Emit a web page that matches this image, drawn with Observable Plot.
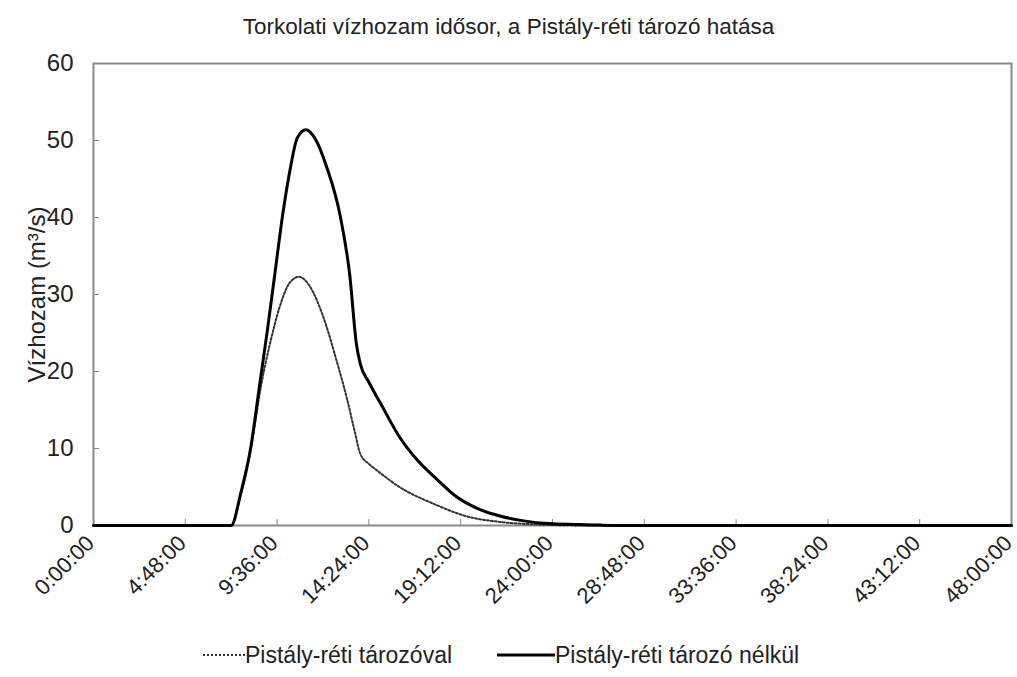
<!DOCTYPE html>
<html>
<head>
<meta charset="utf-8">
<script src="https://cdn.jsdelivr.net/npm/d3@7"></script>
<script src="https://cdn.jsdelivr.net/npm/@observablehq/plot@0.6"></script>
<style>
  body { margin: 0; background: #fff; font-family: "Liberation Sans", Arial, sans-serif; color: #222; }
  #wrap { position: relative; width: 1017px; height: 677px; }
  #title { position: absolute; top: 13px; left: 0; width: 1017px; text-align: center; font-size: 22.5px; line-height: 28px; }
  #chart { position: absolute; top: 50px; left: 0; }
  #legend { position: absolute; top: 641px; left: 0; width: 1017px; height: 28px; font-size: 23px; line-height: 28px; }
  .item { position: absolute; top: 0; display: flex; align-items: center; }
  .item svg { display: block; }
</style>
</head>
<body>
<div id="wrap">
  <div id="title">Torkolati vízhozam idősor, a Pistály-réti tározó hatása</div>
  <div id="chart"></div>
  <div id="legend">
    <div class="item" style="left:203px"><svg width="42" height="28"><line x1="0" y1="14" x2="42" y2="14" stroke="#333" stroke-width="2" stroke-dasharray="2,2"/></svg><span>Pistály-réti tározóval</span></div>
    <div class="item" style="left:497px"><svg width="58" height="28"><line x1="0" y1="14" x2="58" y2="14" stroke="#000" stroke-width="3"/></svg><span>Pistály-réti tározó nélkül</span></div>
  </div>
</div>
<script>
// Series: time in hours, discharge in m³/s
const timeWithout  = [0, 7.2, 7.7, 8.2, 8.7, 9.1, 9.5, 9.9, 10.3, 10.65, 11.1, 11.6, 12.2, 12.9, 13.4, 13.75, 13.95, 14.4, 15.0, 16.0, 17.0, 18.0, 19.0, 20.0, 21.3, 22.5, 23.8, 26.5, 28, 48];
const valueWithout = [0, 0,   4.2, 9.8, 18.5, 25.5, 33, 40.5, 46.5, 50.3, 51.4, 50.2, 46.5, 40.2, 32.5, 23.5, 21.0, 18.6, 15.9, 11.5, 8.3, 5.9, 3.7, 2.3, 1.2, 0.6, 0.25, 0.05, 0, 0];

const timeWith  = [0, 7.2, 7.7, 8.2, 8.75, 9.2, 9.75, 10.25, 10.75, 11.3, 12.0, 12.7, 13.25, 13.65, 13.95, 14.4, 14.8, 16.0, 17.8, 19.5, 21.3, 23.0, 25, 26, 48];
const valueWith = [0, 0,   4.0, 9.5, 18.0, 23.3, 28.5, 31.5,  32.3,  31.1, 27.2, 21.5, 16.5,  12.3,  9.3,   8.0,  7.2,  5.0,  2.8,  1.2,  0.45, 0.15, 0.02, 0, 0];

const xTickHours = [0, 4.8, 9.6, 14.4, 19.2, 24, 28.8, 33.6, 38.4, 43.2, 48];
const yTicks = [0, 10, 20, 30, 40, 50, 60];
const yLabel = "Vízhozam (m³/s)";

const withoutData = timeWithout.map((t, i) => ({t, v: valueWithout[i]}));
const withData = timeWith.map((t, i) => ({t, v: valueWith[i]}));

const fmt = h => {
  const total = Math.round(h * 60);
  const hh = Math.floor(total / 60), mm = total % 60;
  return `${hh}:${String(mm).padStart(2, "0")}:00`;
};

const chart = Plot.plot({
  width: 1017,
  height: 590,
  marginTop: 13,
  marginBottom: 115,
  marginLeft: 93,
  marginRight: 6,
  style: {fontFamily: "Liberation Sans, Arial, sans-serif", fontSize: "23px", color: "#222", background: "#fff"},
  x: {domain: [0, 48]},
  y: {domain: [0, 60]},
  marks: [
    Plot.frame({stroke: "#888", strokeWidth: 2}),
    Plot.axisY({ticks: yTicks, tickSize: 6, text: null, dx: 6, stroke: "#888", label: null}),
    Plot.axisY({ticks: yTicks, tickSize: 0, tickPadding: 20, label: yLabel, labelAnchor: "center", labelArrow: "none", labelOffset: 66, fontSize: 24}),
    Plot.axisX({ticks: xTickHours, tickSize: 6, text: null, dy: -6, stroke: "#888", label: null}),
    Plot.axisX({ticks: xTickHours, tickSize: 0, tickPadding: 14, tickRotate: -45, tickFormat: fmt, label: null, fontSize: 22, dx: -3}),
    Plot.line(withData, {x: "t", y: "v", stroke: "#333", strokeWidth: 2, strokeDasharray: "2,2", curve: "monotone-x"}),
    Plot.line(withoutData, {x: "t", y: "v", stroke: "#000", strokeWidth: 3, curve: "monotone-x"})
  ]
});
document.getElementById("chart").appendChild(chart);
</script>
</body>
</html>
